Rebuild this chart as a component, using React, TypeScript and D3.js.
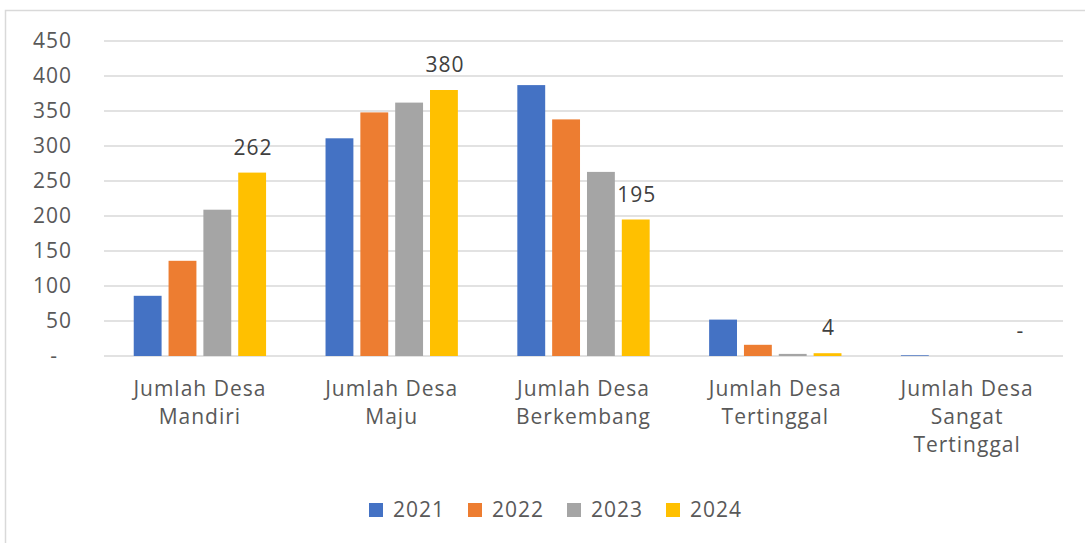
import React from "react";
import * as d3 from "d3";

const categories: string[][] = [
  ["Jumlah Desa", "Mandiri"],
  ["Jumlah Desa", "Maju"],
  ["Jumlah Desa", "Berkembang"],
  ["Jumlah Desa", "Tertinggal"],
  ["Jumlah Desa", "Sangat", "Tertinggal"],
];
const seriesNames = ["2021", "2022", "2023", "2024"];
const values2021 = [86, 311, 387, 52, 1];
const values2022 = [136, 348, 338, 16, 0];
const values2023 = [209, 362, 263, 3, 0];
const values2024 = [262, 380, 195, 4, 0];
const colors = ["#4472C4", "#ED7D31", "#A5A5A5", "#FFC000"];
const yTicks = [0, 50, 100, 150, 200, 250, 300, 350, 400, 450];

const allSeries = [values2021, values2022, values2023, values2024];
const labelledSeries = 3;

export default function App() {
  const W = 1085;
  const H = 543;
  const left = 104;
  const right = 1063;
  const top = 41;
  const bottom = 356;
  const font = "'Open Sans', sans-serif";
  const fs = 21;
  const ls = 1;

  const y = d3.scaleLinear().domain([0, 450]).range([bottom, top]);
  const x0 = d3
    .scaleBand<number>()
    .domain(categories.map((_, i) => i))
    .range([left, right])
    .padding(0);
  const bw = x0.bandwidth();
  const groupW = bw * 0.69;
  const x1 = d3
    .scaleBand<number>()
    .domain(seriesNames.map((_, i) => i))
    .range([(bw - groupW) / 2, (bw + groupW) / 2])
    .paddingInner(0.2);

  const fmt = (v: number) => (v === 0 ? "-" : String(v));

  return (
    <svg
      width={W}
      height={H}
      style={{ position: "absolute", left: 0, top: 0, background: "#fff" }}
    >
      <rect x={5.5} y={10.5} width={1200} height={700} fill="#fff" stroke="#d9d9d9" strokeWidth={1.5} />
      {yTicks.map((t) => (
        <g key={t}>
          <line x1={left} x2={right} y1={y(t)} y2={y(t)} stroke="#d9d9d9" strokeWidth={1.5} />
          <text
            x={t === 0 ? 58 : 72}
            y={y(t) - 1}
            dominantBaseline="central"
            textAnchor="end"
            fontFamily={font}
            fontSize={fs}
            letterSpacing={ls}
            fill="#595959"
          >
            {fmt(t)}
          </text>
        </g>
      ))}
      {allSeries.map((vals, si) =>
        vals.map((v, ci) => {
          const bx = (x0(ci) as number) + (x1(si) as number);
          return (
            <rect
              key={`${si}-${ci}`}
              x={bx}
              y={y(v)}
              width={x1.bandwidth()}
              height={bottom - y(v)}
              fill={colors[si]}
            />
          );
        })
      )}
      {allSeries[labelledSeries].map((v, ci) => {
        const bx = (x0(ci) as number) + (x1(labelledSeries) as number) + x1.bandwidth() / 2;
        return (
          <text
            key={`l${ci}`}
            x={bx + 1}
            y={y(v) - 18}
            textAnchor="middle"
            fontFamily={font}
            fontSize={fs}
            letterSpacing={ls}
            fill="#404040"
          >
            {fmt(v)}
          </text>
        );
      })}
      {categories.map((lines, ci) => (
        <text
          key={`c${ci}`}
          textAnchor="middle"
          fontFamily={font}
          fontSize={fs}
          letterSpacing={ls}
          fill="#595959"
        >
          {lines.map((ln, li) => (
            <tspan key={li} x={(x0(ci) as number) + bw / 2} y={396 + li * 28}>
              {ln}
            </tspan>
          ))}
        </text>
      ))}
      {seriesNames.map((s, si) => {
        const lx = 369 + si * 99;
        return (
          <g key={s}>
            <rect x={lx} y={503} width={14} height={14} fill={colors[si]} />
            <text
              x={lx + 24}
              y={517}
              fontFamily={font}
              fontSize={fs}
              letterSpacing={ls}
              fill="#595959"
            >
              {s}
            </text>
          </g>
        );
      })}
    </svg>
  );
}
